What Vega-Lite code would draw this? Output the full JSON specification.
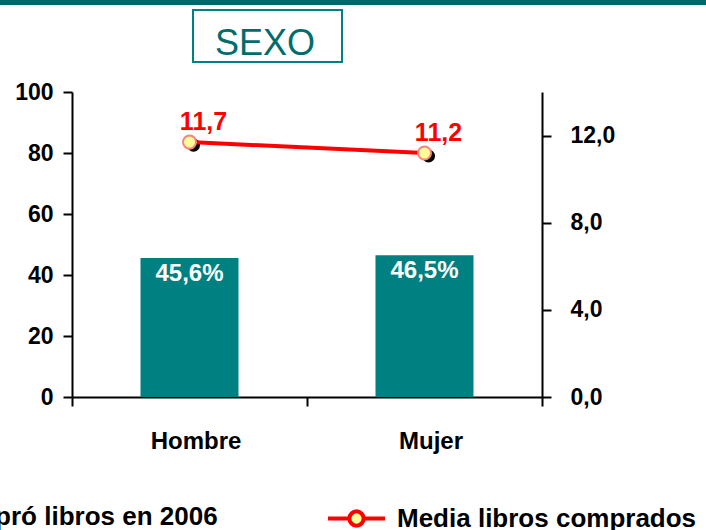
{
  "$schema": "https://vega.github.io/schema/vega-lite/v6.json",
  "width": 470,
  "height": 305,
  "autosize": {"type": "none"},
  "padding": {"left": 72, "top": 92, "right": 164, "bottom": 133},
  "background": "white",
  "data": {"values": [
    {"sexo": "Hombre", "compro": 45.6, "compro_txt": "45,6%", "media": 11.7, "media_txt": "11,7"},
    {"sexo": "Mujer", "compro": 46.5, "compro_txt": "46,5%", "media": 11.2, "media_txt": "11,2"}
  ]},
  "encoding": {
    "x": {
      "field": "sexo", "type": "nominal", "sort": null,
      "scale": {"paddingInner": 0, "paddingOuter": 0},
      "axis": {"title": null, "tickBand": "extent", "labelAngle": 0, "labelFontSize": 24, "labelFontWeight": "bold", "labelColor": "black", "labelPadding": 23, "labelOffset": 6, "tickSize": 9, "tickWidth": 2, "tickColor": "black", "domainColor": "black", "domainWidth": 2, "grid": false}
    }
  },
  "layer": [
    {
      "layer": [
        {
          "mark": {"type": "bar", "width": {"band": 0.417}},
          "encoding": {
            "y": {"field": "compro", "type": "quantitative", "scale": {"domain": [0, 100], "nice": false},
              "axis": {"orient": "left", "title": null, "values": [0, 20, 40, 60, 80, 100], "labelFontSize": 23, "labelFontWeight": "bold", "labelColor": "black", "tickSize": 9, "tickWidth": 2, "tickColor": "black", "domainColor": "black", "domainWidth": 2, "labelPadding": 10, "grid": false}},
            "fill": {"datum": "% Compró libros en 2006", "scale": {"range": ["#008080"]},
              "legend": {"orient": "none", "legendX": -199, "legendY": 412, "title": null, "symbolType": "square", "symbolSize": 225, "symbolStrokeWidth": 0, "labelFontSize": 26, "labelFontWeight": "bold", "labelColor": "black", "labelOffset": 8, "labelLimit": 0, "padding": 0}}
          }
        },
        {
          "mark": {"type": "text", "color": "white", "fontSize": 24, "fontWeight": "bold", "baseline": "alphabetic", "dy": 23},
          "encoding": {
            "y": {"field": "compro", "type": "quantitative", "scale": {"domain": [0, 100], "nice": false},
              "axis": {"orient": "left", "title": null, "values": [0, 20, 40, 60, 80, 100], "labelFontSize": 23, "labelFontWeight": "bold", "labelColor": "black", "tickSize": 9, "tickWidth": 2, "tickColor": "black", "domainColor": "black", "domainWidth": 2, "labelPadding": 10, "grid": false}},
            "text": {"field": "compro_txt"}
          }
        },
        {
          "mark": {"type": "text", "text": ""},
          "encoding": {
            "color": {"datum": 1, "type": "quantitative", "scale": {"domain": [0, 1], "range": ["#006868", "#006868"]},
              "legend": {"orient": "none", "legendX": -72, "legendY": -92, "direction": "horizontal", "gradientLength": 706, "gradientThickness": 5, "labelExpr": "''", "labelOpacity": 0, "labelFontSize": 1, "title": null, "gradientStrokeWidth": 0, "padding": 0}}
          }
        }
      ]
    },
    {
      "layer": [
        {
          "mark": {"type": "point", "filled": true, "color": "black", "size": 170, "opacity": 1},
          "encoding": {
            "y": {"field": "media", "type": "quantitative", "scale": {"domain": [0, 14], "nice": false},
              "axis": {"orient": "right", "title": null, "values": [0, 4, 8, 12], "labelExpr": "replace(format(datum.value, '.1f'), '.', ',')", "labelFontSize": 23, "labelFontWeight": "bold", "labelColor": "black", "tickSize": 9, "tickWidth": 2, "tickColor": "black", "domainColor": "black", "domainWidth": 2, "labelPadding": 19, "grid": false}},
            "xOffset": {"value": 121.5},
            "yOffset": {"value": 3}
          }
        },
        {
          "mark": {"type": "line", "strokeWidth": 4},
          "encoding": {
            "y": {"field": "media", "type": "quantitative", "scale": {"domain": [0, 14], "nice": false},
              "axis": {"orient": "right", "title": null, "values": [0, 4, 8, 12], "labelExpr": "replace(format(datum.value, '.1f'), '.', ',')", "labelFontSize": 23, "labelFontWeight": "bold", "labelColor": "black", "tickSize": 9, "tickWidth": 2, "tickColor": "black", "domainColor": "black", "domainWidth": 2, "labelPadding": 19, "grid": false}},
            "stroke": {"datum": "Media libros comprados", "scale": {"range": ["#ff0000"]},
              "legend": {"orient": "none", "legendX": 254, "legendY": 396, "title": null, "symbolType": "M-1,0H-0.25M0.25,0H1M0.25,0A0.25,0.25,0,1,1,-0.25,0A0.25,0.25,0,1,1,0.25,0Z", "symbolSize": 3249, "symbolStrokeWidth": 4, "symbolFillColor": "#ffff99", "labelFontSize": 26, "labelFontWeight": "bold", "labelColor": "black", "labelOffset": 10, "labelLimit": 0, "padding": 0}}
          }
        },
        {
          "mark": {"type": "point", "filled": true, "fill": "#ffff99", "stroke": "#ff8080", "strokeWidth": 2, "size": 170, "opacity": 1},
          "encoding": {
            "y": {"field": "media", "type": "quantitative", "scale": {"domain": [0, 14], "nice": false},
              "axis": {"orient": "right", "title": null, "values": [0, 4, 8, 12], "labelExpr": "replace(format(datum.value, '.1f'), '.', ',')", "labelFontSize": 23, "labelFontWeight": "bold", "labelColor": "black", "tickSize": 9, "tickWidth": 2, "tickColor": "black", "domainColor": "black", "domainWidth": 2, "labelPadding": 19, "grid": false}},
            "shape": {"datum": "SEXO", "scale": {"range": ["circle"]},
              "legend": {"orient": "none", "legendX": 121, "legendY": -82, "title": "\u00a0", "titleFontSize": 14, "titlePadding": 2, "padding": 0, "strokeColor": "#008080", "labelFontSize": 36, "labelFontWeight": "normal", "labelColor": "#006d6d", "symbolSize": 0, "symbolOpacity": 0, "symbolStrokeWidth": 0, "labelOffset": -14, "labelLimit": 0, "labelExpr": "datum.label + '\u2800'"}}
          }
        },
        {
          "mark": {"type": "text", "color": "#ff0000", "fontSize": 25, "fontWeight": "bold", "baseline": "alphabetic", "dx": 14, "dy": -12},
          "encoding": {
            "y": {"field": "media", "type": "quantitative", "scale": {"domain": [0, 14], "nice": false},
              "axis": {"orient": "right", "title": null, "values": [0, 4, 8, 12], "labelExpr": "replace(format(datum.value, '.1f'), '.', ',')", "labelFontSize": 23, "labelFontWeight": "bold", "labelColor": "black", "tickSize": 9, "tickWidth": 2, "tickColor": "black", "domainColor": "black", "domainWidth": 2, "labelPadding": 19, "grid": false}},
            "text": {"field": "media_txt"}
          }
        }
      ]
    }
  ],
  "resolve": {"scale": {"y": "independent", "fill": "independent", "stroke": "independent", "shape": "independent", "color": "independent"}},
  "config": {
    "font": "Liberation Sans",
    "view": {"stroke": null},
    "axis": {"grid": false},
    "legend": {"strokeWidth": 2}
  }
}
